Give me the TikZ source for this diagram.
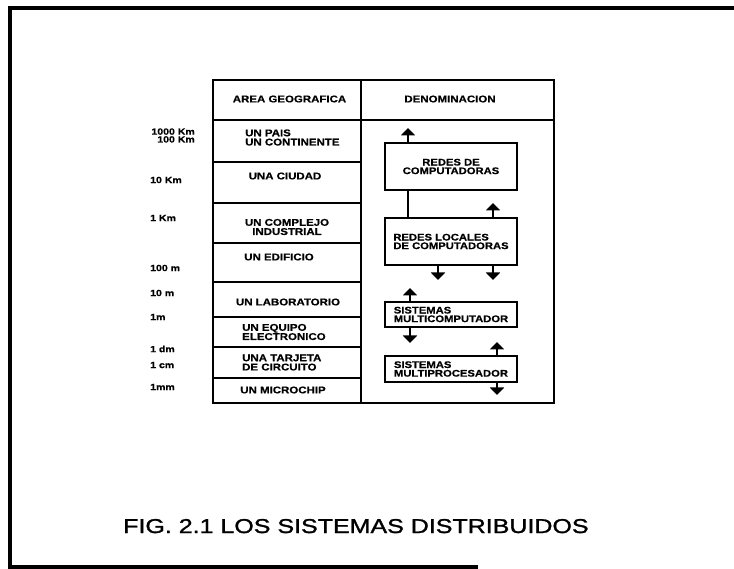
\documentclass[tikz,border=0pt]{standalone}
\usepackage{fontspec}
\setmainfont{Liberation Sans}
\newfontfamily\tf[FakeStretch=1.17,FakeBold=0.6]{Liberation Sans Bold}
\newfontfamily\capf[FakeStretch=1.25,FakeBold=1.4]{Liberation Sans}
\usetikzlibrary{arrows.meta}
\begin{document}
\begin{tikzpicture}[x=1pt,y=-1pt,
  lbl/.style={font=\tf\fontsize{9.8}{9.2}\selectfont, inner sep=0pt},
  cell/.style={lbl, align=left},
  sclbl/.style={font=\tf\fontsize{9}{7.8}\selectfont, inner sep=0pt, align=right},
  box/.style={draw, line width=2.6pt, minimum width=132pt, inner sep=0pt,
    align=left, font=\tf\fontsize{9.6}{8.6}\selectfont},
  arr/.style={line width=2.6pt, -{Triangle[width=14pt,length=7.5pt]}},
  gridline/.style={line width=2.4pt},
  frame/.style={line width=3.5pt}]
\useasboundingbox (0,0) rectangle (734,569);

% outer frame
\draw[frame] (734,8) -- (10,8) -- (10,567) -- (478,567);

% table
\draw[gridline] (213,80) rectangle (554,403);
\draw[gridline] (361,80) -- (361,403);
\draw[gridline] (213,120) -- (554,120);
\foreach \yy in {162,203,243,282,317,347,378}
  \draw[gridline] (213,\yy) -- (361,\yy);

% headers
\node[lbl] (h1) at (289.5,99) {AREA GEOGRAFICA};
\node[lbl] (h2) at (450,99) {DENOMINACION};

% left column cells
\node[cell, anchor=west] (c1) at (245,137.5) {UN PAIS\\UN CONTINENTE};
\node[cell] (c2) at (285,176) {UNA CIUDAD};
\node[cell, align=center] (c3) at (287,227) {UN COMPLEJO\\INDUSTRIAL};
\node[cell] (c4) at (279,257) {UN EDIFICIO};
\node[cell] (c5) at (288,302) {UN LABORATORIO};
\node[cell, anchor=west] (c6) at (242,332) {UN EQUIPO\\ELECTRONICO};
\node[cell, anchor=west] (c7) at (242,362.5) {UNA TARJETA\\DE CIRCUITO};
\node[cell] (c8) at (283,390) {UN MICROCHIP};

% scale labels
\node[sclbl, anchor=east] (s1) at (195,135.5) {1000 Km\\100 Km};
\node[sclbl, anchor=west] (s2) at (150,180) {10 Km};
\node[sclbl, anchor=west] (s3) at (150,218) {1 Km};
\node[sclbl, anchor=west] (s4) at (150,268) {100 m};
\node[sclbl, anchor=west] (s5) at (150,293) {10 m};
\node[sclbl, anchor=west] (s6) at (150,317) {1m};
\node[sclbl, anchor=west] (s7) at (150,349) {1 dm};
\node[sclbl, anchor=west] (s8) at (150,365) {1 cm};
\node[sclbl, anchor=west] (s9) at (150,387) {1mm};

% right column boxes
\node[box, align=center, minimum height=47pt] (RC) at (451,166.5) {REDES DE\\COMPUTADORAS};
\node[box, minimum height=47pt] (RL) at (451,241.5) {REDES LOCALES\\DE COMPUTADORAS};
\node[box, minimum height=25pt] (MC) at (451,314.5) {SISTEMAS\\MULTICOMPUTADOR};
\node[box, minimum height=26pt] (MP) at (451,369) {SISTEMAS\\MULTIPROCESADOR};

% arrow ends
\coordinate (e1) at (408,128);
\coordinate (e2) at (493,203);
\coordinate (e3) at (438,280);
\coordinate (e4) at (493,280);
\coordinate (e5) at (410,288);
\coordinate (e6) at (410,343);
\coordinate (e7) at (497,342);
\coordinate (e8) at (497,395);

\draw[arr] (RC.north -| e1) -- (e1);
\draw[line width=2.6pt] (RC.south -| e1) -- (RL.north -| e1);
\draw[arr] (RL.north -| e2) -- (e2);
\draw[arr] (RL.south -| e3) -- (e3);
\draw[arr] (RL.south -| e4) -- (e4);
\draw[arr] (MC.north -| e5) -- (e5);
\draw[arr] (MC.south -| e6) -- (e6);
\draw[arr] (MP.north -| e7) -- (e7);
\draw[arr] (MP.south -| e8) -- (e8);

% caption
\node[font=\capf\fontsize{20}{20}\selectfont, inner sep=0pt, anchor=base west] (cap) at (123,533) {FIG. 2.1 LOS SISTEMAS DISTRIBUIDOS};
\end{tikzpicture}
\end{document}
